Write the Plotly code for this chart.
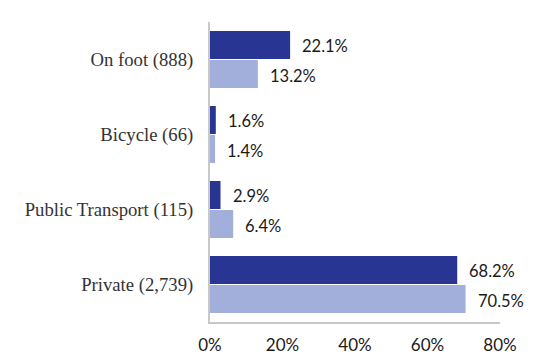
import plotly.graph_objects as go

categories = ["On foot (888)", "Bicycle (66)", "Public Transport (115)", "Private (2,739)"]
series_a = [22.1, 1.6, 2.9, 68.2]
series_b = [13.2, 1.4, 6.4, 70.5]
x_ticks = [0, 20, 40, 60, 80]
x_tick_labels = ["0%", "20%", "40%", "60%", "80%"]

DARK = "#283593"
LIGHT = "#a2afdb"

fig = go.Figure()
fig.add_trace(go.Bar(y=categories, x=series_a, orientation="h", marker=dict(color=DARK, line=dict(width=0)), showlegend=False, hoverinfo="skip"))
fig.add_trace(go.Bar(y=categories, x=series_b, orientation="h", marker=dict(color=LIGHT, line=dict(width=0)), showlegend=False, hoverinfo="skip"))

annotations = []
for cat, a, b in zip(categories, series_a, series_b):
    annotations.append(dict(x=a, y=cat, text=f"{a:.1f}%", xanchor="left", yanchor="middle", xshift=10, yshift=14, showarrow=False,
                            font=dict(family="Lato", size=16.5, color="#1a1a1a")))
    annotations.append(dict(x=b, y=cat, text=f"{b:.1f}%", xanchor="left", yanchor="middle", xshift=10, yshift=-16, showarrow=False,
                            font=dict(family="Lato", size=16.5, color="#1a1a1a")))

# the page body adds an 8px offset, so the figure is 8px smaller and margins compensate
fig.update_layout(
    width=525, height=347,
    margin=dict(l=202, r=33, t=14, b=33, autoexpand=False),
    paper_bgcolor="white", plot_bgcolor="white",
    barmode="group", bargap=0.227, bargroupgap=0.035,
    annotations=annotations,
)

fig.update_xaxes(range=[0, 80], tickvals=x_ticks, ticktext=x_tick_labels, showgrid=False, zeroline=False, automargin=False,
                 showline=True, linecolor="#c8c8c8", linewidth=2, ticks="", ticklabelstandoff=7,
                 tickfont=dict(family="Lato", size=17, color="#1a1a1a"))
fig.update_yaxes(autorange="reversed", showgrid=False, zeroline=False, automargin=False,
                 showline=True, linecolor="#c8c8c8", linewidth=2, ticks="", ticklabelstandoff=11,
                 tickfont=dict(family="Liberation Serif", size=18.7, color="#333333"))

fig.write_html("out.html")
